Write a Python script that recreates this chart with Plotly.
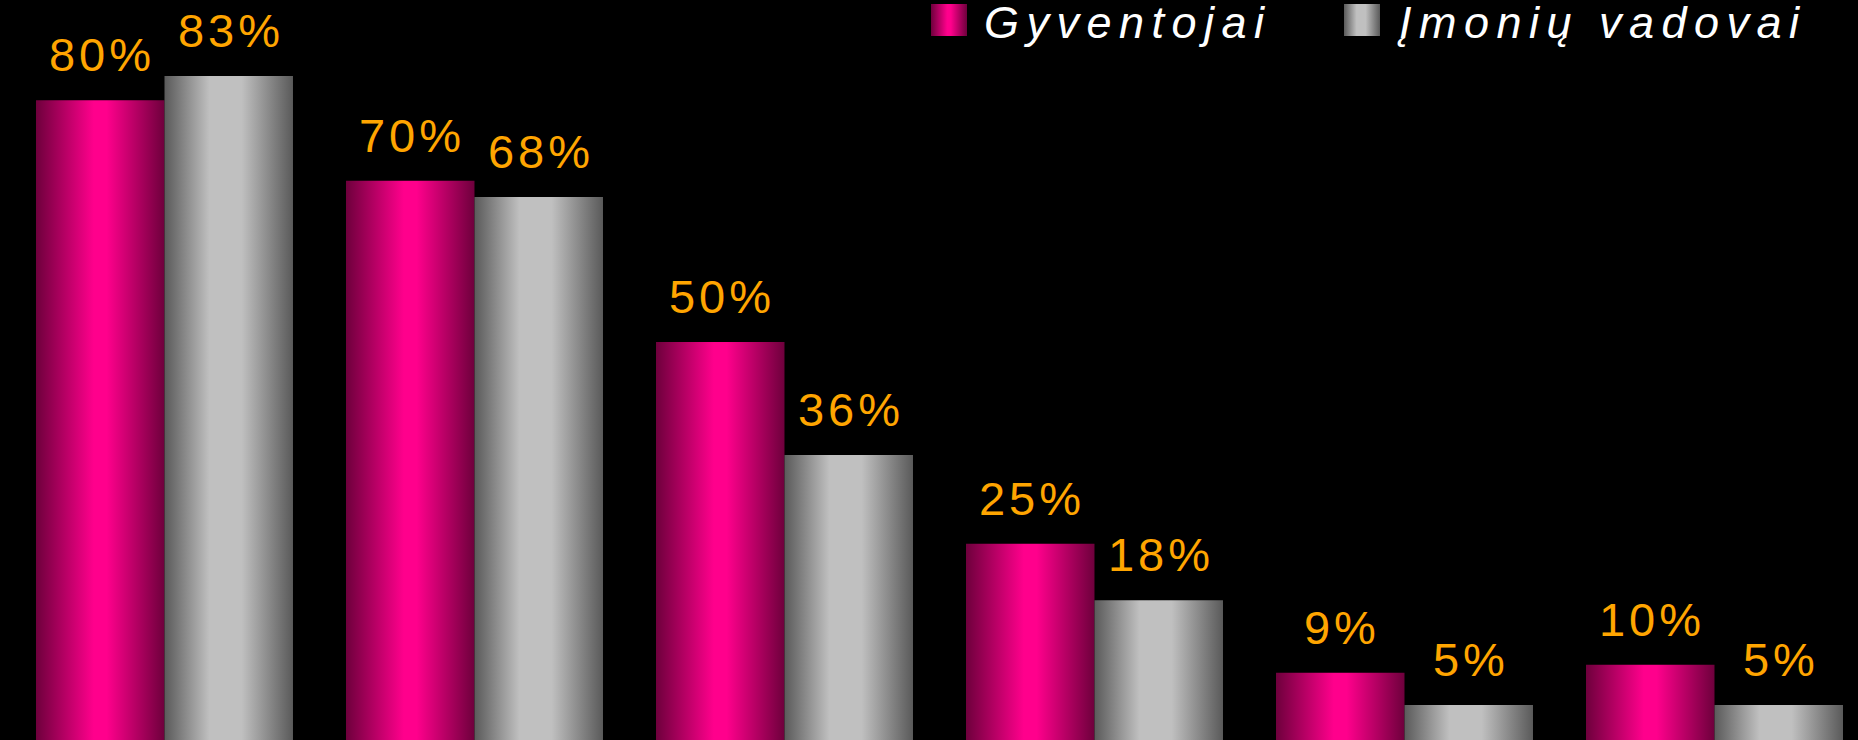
import plotly.graph_objects as go

series_names = ["Gyventojai", "Įmonių vadovai"]
gyventojai = [80, 70, 50, 25, 9, 10]
vadovai = [83, 68, 36, 18, 5, 5]

pink_scale = [[0, "#6e003c"], [0.45, "#ff008c"], [0.55, "#ff008c"], [1, "#6e003c"]]
grey_scale = [[0, "#5a5a5a"], [0.35, "#c0c0c0"], [0.6, "#c0c0c0"], [1, "#5a5a5a"]]

bar_w = 0.4145
label_font = dict(family="Liberation Sans, Arial, sans-serif", size=47, color="#ffa500")
legend_font = dict(family="Liberation Sans, Arial, sans-serif", size=45, color="#ffffff", style="italic")

fig = go.Figure()
annotations = []

for values, scale, offset in [(gyventojai, pink_scale, -bar_w), (vadovai, grey_scale, 0)]:
    for i, v in enumerate(values):
        x0 = i + offset
        x1 = x0 + bar_w
        fig.add_trace(go.Scatter(
            x=[x0, x1, x1, x0, x0], y=[0, 0, v, v, 0],
            fill="toself", mode="none",
            fillgradient=dict(type="horizontal", colorscale=scale),
            hoverinfo="skip", showlegend=False,
        ))
        annotations.append(dict(
            x=(x0 + x1) / 2, y=v, text="\u200a".join(f"{v}%"),
            showarrow=False, yanchor="bottom", yshift=17, font=label_font,
        ))

# hand-made legend (gradient swatches + spaced italic text), in pixel-like axes
legend_left = [931, 1344]
for name, scale, lx in zip(series_names, [pink_scale, grey_scale], legend_left):
    fig.add_trace(go.Scatter(
        x=[lx, lx + 36, lx + 36, lx, lx], y=[4, 4, 36, 36, 4],
        xaxis="x2", yaxis="y2",
        fill="toself", mode="none",
        fillgradient=dict(type="horizontal", colorscale=scale),
        hoverinfo="skip", showlegend=False,
    ))
    annotations.append(dict(
        xref="x2", yref="y2", x=lx + 52, y=36, xanchor="left", yanchor="bottom",
        yshift=-13, borderpad=0, text="\u2006".join(name), showarrow=False, font=legend_font,
    ))

fig.update_layout(
    width=1858, height=740,
    margin=dict(l=0, r=0, t=0, b=0),
    paper_bgcolor="black", plot_bgcolor="black",
    showlegend=False,
    annotations=annotations,
    xaxis=dict(range=[-0.5306, 5.4629], visible=False),
    yaxis=dict(range=[0.66, 92.42], visible=False),
    xaxis2=dict(range=[0, 1858], overlaying="x", visible=False),
    yaxis2=dict(range=[740, 0], overlaying="y", visible=False),
)

fig.write_html(
    "out.html",
    config={"displayModeBar": False},
    post_script="document.body.style.margin='0';document.body.style.background='black';",
)
